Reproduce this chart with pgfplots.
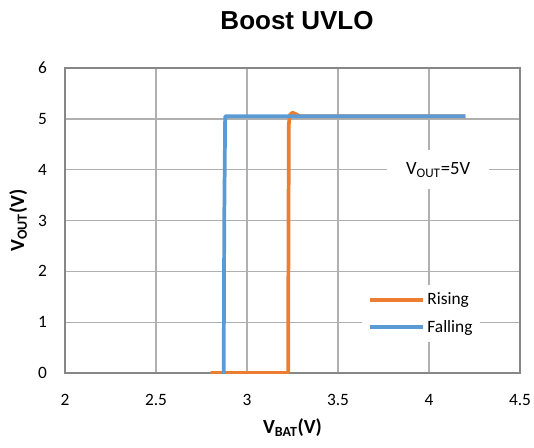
\documentclass[border=0pt]{standalone}
\usepackage{pgfplots}
\pgfplotsset{compat=1.18}
\usepackage{fontspec}
\setmainfont{Carlito}
\newfontfamily\titlefont{Liberation Sans}
\definecolor{rising}{HTML}{ED7D31}
\definecolor{falling}{HTML}{5B9BD5}
\definecolor{gridgray}{HTML}{B0B0B0}
\definecolor{framegray}{HTML}{878787}
\begin{document}
\begin{tikzpicture}
\begin{axis}[
    name=main,
    scale only axis,
    width=341.25pt,
    height=228.75pt,
    xmin=2, xmax=4.5,
    ymin=0, ymax=6,
    xtick={2,2.5,...,4.5},
    ytick={0,1,...,6},
    xticklabels={2,2.5,3,3.5,4,4.5},
    major tick length=0pt,
    grid=major,
    major grid style={gridgray, line width=1pt},
    axis line style={framegray, line width=2.2pt},
    /pgf/number format/assume math mode=true,
    ticklabel style={font=\fontsize{13}{15}\selectfont},
    xticklabel style={yshift=-12.5pt},
    yticklabel style={xshift=-10pt},
    title={\titlefont\bfseries Boost UVLO},
    title style={at={(axis description cs:0.51,1.131)}, anchor=center, font=\fontsize{19.5}{22}\selectfont},
    xlabel={\textbf{V\textsubscript{BAT}(V)}},
    ylabel={\textbf{V\textsubscript{OUT}(V)}},
    xlabel style={at={(axis description cs:0.5,-0.18)}, anchor=center, font=\fontsize{15}{17}\selectfont},
    ylabel style={at={(axis description cs:-0.103,0.5)}, anchor=center, font=\fontsize{15}{17}\selectfont},
    legend style={at={(0.653,0.195)}, anchor=west, draw=none, fill=white,
        inner xsep=4pt, inner ysep=4pt, row sep=6pt,
        font=\fontsize{13}{15}\selectfont},
    legend cell align=left,
    legend image code/.code={\draw[#1] (0pt,0pt) -- (40pt,0pt);},
    every axis plot/.append style={line width=2.8pt, line join=round},
]
\addplot[rising] coordinates {
    (2.80,0) (3.226,0) (3.228,3.0) (3.230,4.9) (3.236,5.08)
    (3.25,5.12) (3.27,5.09) (3.29,5.05) (4.2,5.05)
};
\addlegendentry{Rising}
\addplot[falling] coordinates {
    (2.86,0) (2.872,0) (2.875,3.0) (2.88,5.05) (4.2,5.05)
};
\addlegendentry{Falling}
\node[fill=white, inner xsep=14pt, inner ysep=9pt, font=\fontsize{14}{16}\selectfont]
    at (axis cs:4.05,4.0) {V\textsubscript{OUT}=5V};
\end{axis}
\pgfresetboundingbox
\useasboundingbox ([xshift=-48.75pt, yshift=-55.5pt]main.south west)
    rectangle ([xshift=351.75pt, yshift=279.75pt]main.south west);
\end{tikzpicture}
\end{document}
